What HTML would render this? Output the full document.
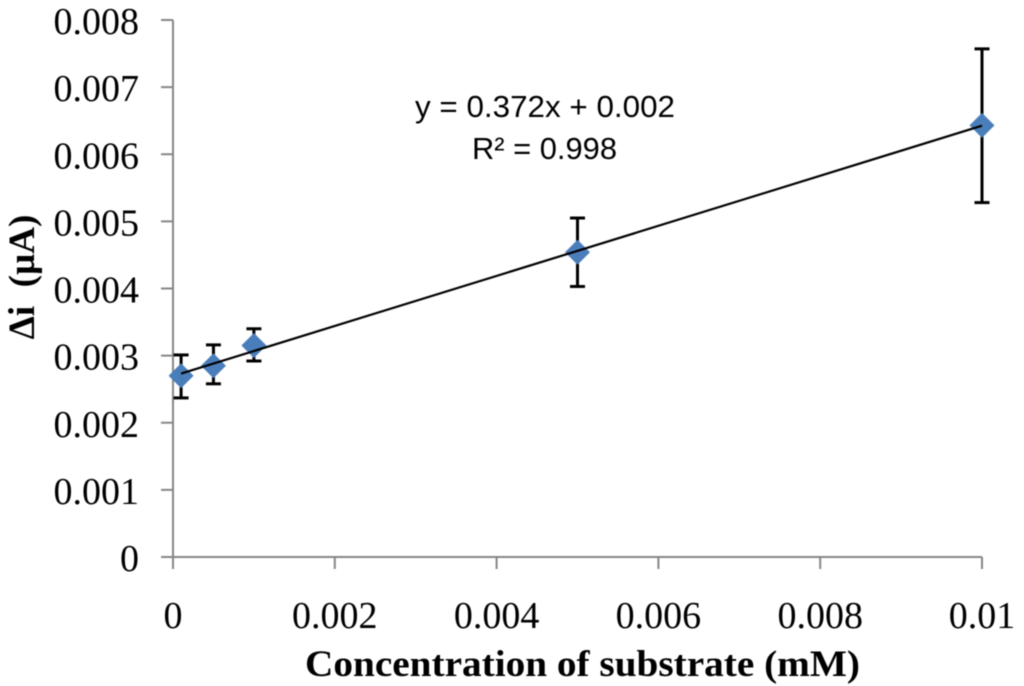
<!DOCTYPE html>
<html>
<head>
<meta charset="utf-8">
<style>
html,body{margin:0;padding:0;background:#fff;width:1024px;height:686px;overflow:hidden}
svg{display:block;filter:blur(0.45px)}
text{font-family:"Liberation Serif",serif;fill:#000}
</style>
</head>
<body>
<svg id="chart" width="1024" height="686" viewBox="0 0 1024 686"></svg>
<script>
const xValues = [0.0001, 0.0005, 0.001, 0.005, 0.01];
const yValues = [0.0027, 0.00285, 0.00315, 0.00454, 0.00643];
const yUpper = [0.00301, 0.00316, 0.0034, 0.00505, 0.00757];
const yLower = [0.00237, 0.00258, 0.00292, 0.00403, 0.00528];
const xTickValues = [0, 0.002, 0.004, 0.006, 0.008, 0.01];
const xTickLabels = ['0', '0.002', '0.004', '0.006', '0.008', '0.01'];
const yTickValues = [0, 0.001, 0.002, 0.003, 0.004, 0.005, 0.006, 0.007, 0.008];
const yTickLabels = ['0', '0.001', '0.002', '0.003', '0.004', '0.005', '0.006', '0.007', '0.008'];

const NS = 'http://www.w3.org/2000/svg';
const svg = document.getElementById('chart');
const X0 = 173, X1 = 982, Y0 = 557, Y1 = 20;
const xMax = 0.01, yMax = 0.008;
function sx(v) { return X0 + (X1 - X0) * v / xMax; }
function sy(v) { return Y0 - (Y0 - Y1) * v / yMax; }
function make(tag, attrs, text) {
  const el = document.createElementNS(NS, tag);
  for (const k in attrs) el.setAttribute(k, attrs[k]);
  if (text !== undefined) el.textContent = text;
  svg.appendChild(el);
  return el;
}
const AXIS = '#868686';

let el;
el = make('line', {x1: X0, y1: Y1, x2: X0, y2: Y0, stroke: AXIS, 'stroke-width': 2});


el = make('line', {x1: X0, y1: Y0, x2: X1, y2: Y0, stroke: AXIS, 'stroke-width': 2});



yTickValues.forEach(function (v, i) {
  const t = make('line', {x1: X0 - 12, y1: sy(v), x2: X0, y2: sy(v), stroke: AXIS, 'stroke-width': 2});
  
  
  const l = make('text', {x: 139, y: sy(v) + 14, 'text-anchor': 'end', 'font-size': 38}, yTickLabels[i]);
  
  
});
xTickValues.forEach(function (v, i) {
  const t = make('line', {x1: sx(v), y1: Y0, x2: sx(v), y2: Y0 + 12, stroke: AXIS, 'stroke-width': 2});
  
  
  const l = make('text', {x: sx(v), y: 628, 'text-anchor': 'middle', 'font-size': 38}, xTickLabels[i]);
  
  
});

xValues.forEach(function (v, i) {
  const cx = sx(v), top = sy(yUpper[i]), bot = sy(yLower[i]);
  const s = make('line', {x1: cx, y1: top, x2: cx, y2: bot, stroke: '#000', 'stroke-width': 3});
  
  
  const c1 = make('line', {x1: cx - 7.5, y1: top, x2: cx + 7.5, y2: top, stroke: '#000', 'stroke-width': 3});
  
  
  const c2 = make('line', {x1: cx - 7.5, y1: bot, x2: cx + 7.5, y2: bot, stroke: '#000', 'stroke-width': 3});
  
  
});

xValues.forEach(function (v, i) {
  const cx = sx(v), cy = sy(yValues[i]), r = 12.5;
  const p = make('polygon', {points: [cx, cy - r, cx + r, cy, cx, cy + r, cx - r, cy].join(' '), fill: '#4a7ebb'});
  
  
});

const n = xValues.length;
const mx = xValues.reduce(function (a, b) { return a + b; }, 0) / n;
const my = yValues.reduce(function (a, b) { return a + b; }, 0) / n;
let sxy = 0, sxx = 0;
xValues.forEach(function (v, i) { sxy += (v - mx) * (yValues[i] - my); sxx += (v - mx) * (v - mx); });
const slope = sxy / sxx, intercept = my - slope * mx;
const xa = xValues[0], xb = xValues[n - 1];
el = make('line', {x1: sx(xa), y1: sy(slope * xa + intercept), x2: sx(xb), y2: sy(slope * xb + intercept), stroke: '#000', 'stroke-width': 2.2});



el = make('text', {x: 415, y: 117, 'font-size': 31, textLength: 260, lengthAdjust: 'spacingAndGlyphs', style: 'font-family:"Liberation Sans",sans-serif'}, 'y = 0.372x + 0.002');


el = make('text', {x: 472, y: 159, 'font-size': 31, textLength: 145, lengthAdjust: 'spacingAndGlyphs', style: 'font-family:"Liberation Sans",sans-serif'}, 'R² = 0.998');



el = make('text', {x: 305, y: 676, 'font-size': 37, 'font-weight': 'bold', textLength: 555, lengthAdjust: 'spacingAndGlyphs'}, 'Concentration of substrate (mM)');


el = make('text', {x: 0, y: 0, transform: 'translate(34,277) rotate(-90)', 'text-anchor': 'middle', 'font-size': 37, 'font-weight': 'bold', style: 'white-space:pre'}, 'Δi  (µA)');


</script>
</body>
</html>
